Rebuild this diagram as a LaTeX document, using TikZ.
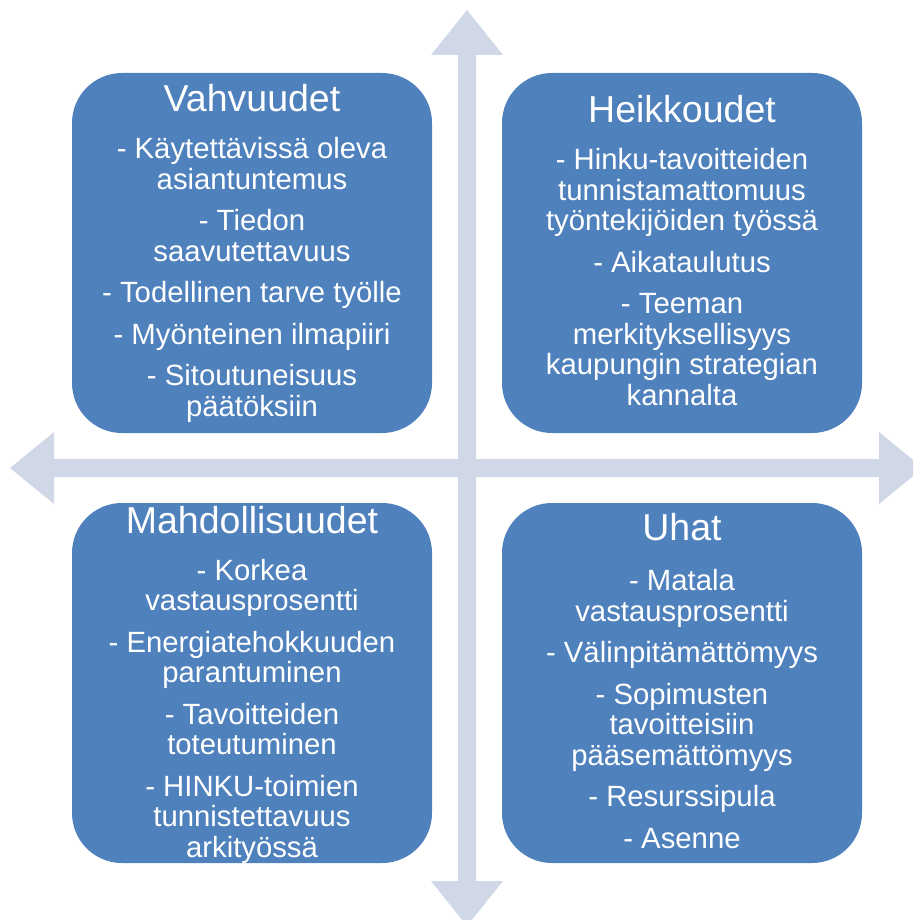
\documentclass[tikz,border=0pt]{standalone}
\usepackage{fontspec}
\setmainfont{Liberation Sans}
\usetikzlibrary{positioning}
\definecolor{quadblue}{HTML}{4F81BD}
\definecolor{axisgray}{HTML}{D0D8E8}

\begin{document}
\begin{tikzpicture}[
  x=1pt, y=-1pt,
  quadbox/.style={rounded corners=50pt, fill=quadblue, minimum width=360pt, minimum height=360pt, inner sep=0pt},
  quadhead/.style={text=white, font=\fontsize{37.5}{40}\selectfont, anchor=base, inner sep=0pt},
  quadbody/.style={text=white, font=\fontsize{29.3}{30.5}\selectfont, align=center, anchor=base, inner sep=0pt},
  axisarrow/.style={fill=axisgray}
]
  \useasboundingbox (0,0) rectangle (913,920);
  \clip (0,0) rectangle (913,920);

  % the two axes
  \fill[axisarrow] (467,10) -- (503,55) -- (476,55) -- (476,881) -- (503,881) -- (467,926)
    -- (431,881) -- (458,881) -- (458,55) -- (431,55) -- cycle;
  \fill[axisarrow] (10,468) -- (54,432) -- (54,459) -- (879,459) -- (879,432) -- (923,468)
    -- (879,504) -- (879,477) -- (54,477) -- (54,504) -- cycle;

  \node[quadbox] (vahvuudet) at (252,253) {};
  \node[quadbox] (heikkoudet) at (682,253) {};
  \node[quadbox] (mahdollisuudet) at (252,683) {};
  \node[quadbox] (uhat) at (682,683) {};

  % base of a body text = its last line
  \node[quadhead] (vahvuudet-head) at (252,112) {Vahvuudet};
  \node[quadbody] (vahvuudet-text) at (252,416) {- Käytettävissä oleva\\asiantuntemus\\[11pt]
    - Tiedon\\saavutettavuus\\[11pt]- Todellinen tarve työlle\\[11pt]- Myönteinen ilmapiiri\\[11pt]
    - Sitoutuneisuus\\päätöksiin};

  \node[quadhead] (heikkoudet-head) at (682,123) {Heikkoudet};
  \node[quadbody] (heikkoudet-text) at (682,405) {- Hinku-tavoitteiden\\tunnistamattomuus\\työntekijöiden työssä\\[11pt]
    - Aikataulutus\\[11pt]- Teeman\\merkityksellisyys\\kaupungin strategian\\kannalta};

  \node[quadhead] (mahdollisuudet-head) at (252,533) {Mahdollisuudet};
  \node[quadbody] (mahdollisuudet-text) at (252,857) {- Korkea\\vastausprosentti\\[11pt]
    - Energiatehokkuuden\\parantuminen\\[11pt]- Tavoitteiden\\toteutuminen\\[11pt]
    - HINKU-toimien\\tunnistettavuus\\arkityössä};

  \node[quadhead] (uhat-head) at (682,540) {Uhat};
  \node[quadbody] (uhat-text) at (682,848) {- Matala\\vastausprosentti\\[11pt]
    - Välinpitämättömyys\\[11pt]- Sopimusten\\tavoitteisiin\\pääsemättömyys\\[11pt]
    - Resurssipula\\[11pt]- Asenne};
\end{tikzpicture}
\end{document}
